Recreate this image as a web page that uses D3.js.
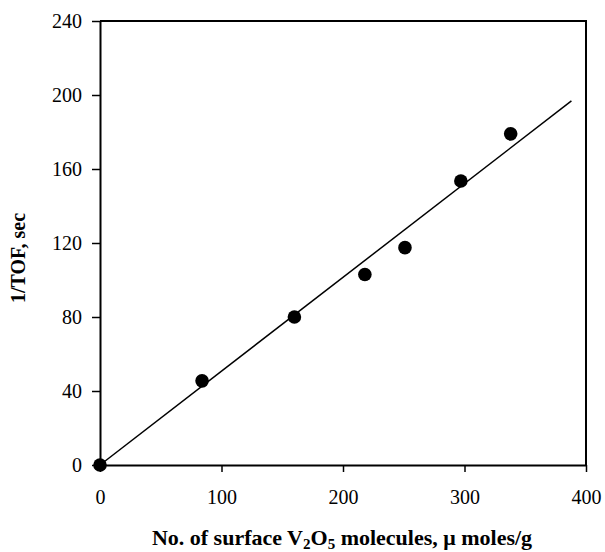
<!DOCTYPE html>
<html>
<head>
<meta charset="utf-8">
<script src="https://cdn.jsdelivr.net/npm/d3@7"></script>
<style>
  body { margin: 0; background: #fff; }
  text { font-family: "Liberation Serif", "Times New Roman", serif; }
</style>
</head>
<body>
<script>
// data
const surfaceV2O5 = [0, 84, 160, 218, 251, 297, 338];
const invTOF = [0, 45.5, 80, 103, 117.5, 153.5, 179];
const fitLineX = [0, 388];
const fitLineY = [0, 196.8];
const xTicks = [0, 100, 200, 300, 400];
const yTicks = [0, 40, 80, 120, 160, 200, 240];

const width = 605, height = 552;
const margin = { top: 21, right: 19, bottom: 87, left: 100 };

const svg = d3.select("body").append("svg")
    .attr("width", width)
    .attr("height", height);

const x = d3.scaleLinear().domain([0, 400]).range([margin.left, width - margin.right]);
const y = d3.scaleLinear().domain([0, 240]).range([height - margin.bottom, margin.top]);

// frame (top and right sides)
svg.append("path")
    .attr("d", `M${x(0)},${y(240)}H${x(400)}V${y(0)}`)
    .attr("fill", "none")
    .attr("stroke", "#000")
    .attr("stroke-width", 2);

// axes
const xAxis = svg.append("g")
    .attr("transform", `translate(0,${y(0)})`)
    .call(d3.axisBottom(x).tickValues(xTicks).tickSize(7).tickPadding(18).tickSizeOuter(0));
const yAxis = svg.append("g")
    .attr("transform", `translate(${x(0)},0)`)
    .call(d3.axisLeft(y).tickValues(yTicks).tickSize(8).tickPadding(10).tickSizeOuter(0));

[xAxis, yAxis].forEach(g => {
    g.select(".domain").attr("stroke-width", 2);
    g.selectAll(".tick line").attr("stroke-width", 1.5);
    g.selectAll(".tick text")
        .style("font-family", "Liberation Serif, serif")
        .style("font-size", "20px")
        .attr("fill", "#000");
});

// fitted line
svg.append("line")
    .attr("x1", x(fitLineX[0])).attr("y1", y(fitLineY[0]))
    .attr("x2", x(fitLineX[1])).attr("y2", y(fitLineY[1]))
    .attr("stroke", "#000")
    .attr("stroke-width", 1.5);

// points
svg.selectAll("circle")
    .data(surfaceV2O5.map((d, i) => [d, invTOF[i]]))
    .enter()
    .append("circle")
    .attr("cx", d => x(d[0]))
    .attr("cy", d => y(d[1]))
    .attr("r", 6.8)
    .attr("fill", "#000");

// axis titles
const xt = svg.append("text")
    .attr("x", 342)
    .attr("y", 545)
    .attr("text-anchor", "middle")
    .style("font-size", "22px")
    .style("font-weight", "bold");
xt.append("tspan").text("No. of surface V");
xt.append("tspan").attr("dy", 4).style("font-size", "15px").text("2");
xt.append("tspan").attr("dy", -4).text("O");
xt.append("tspan").attr("dy", 4).style("font-size", "15px").text("5");
xt.append("tspan").attr("dy", -4).text(" molecules, \u03bc moles/g");

svg.append("text")
    .attr("transform", "translate(25,258) rotate(-90)")
    .attr("text-anchor", "middle")
    .style("font-size", "20px")
    .style("font-weight", "bold")
    .text("1/TOF, sec");
</script>
</body>
</html>
